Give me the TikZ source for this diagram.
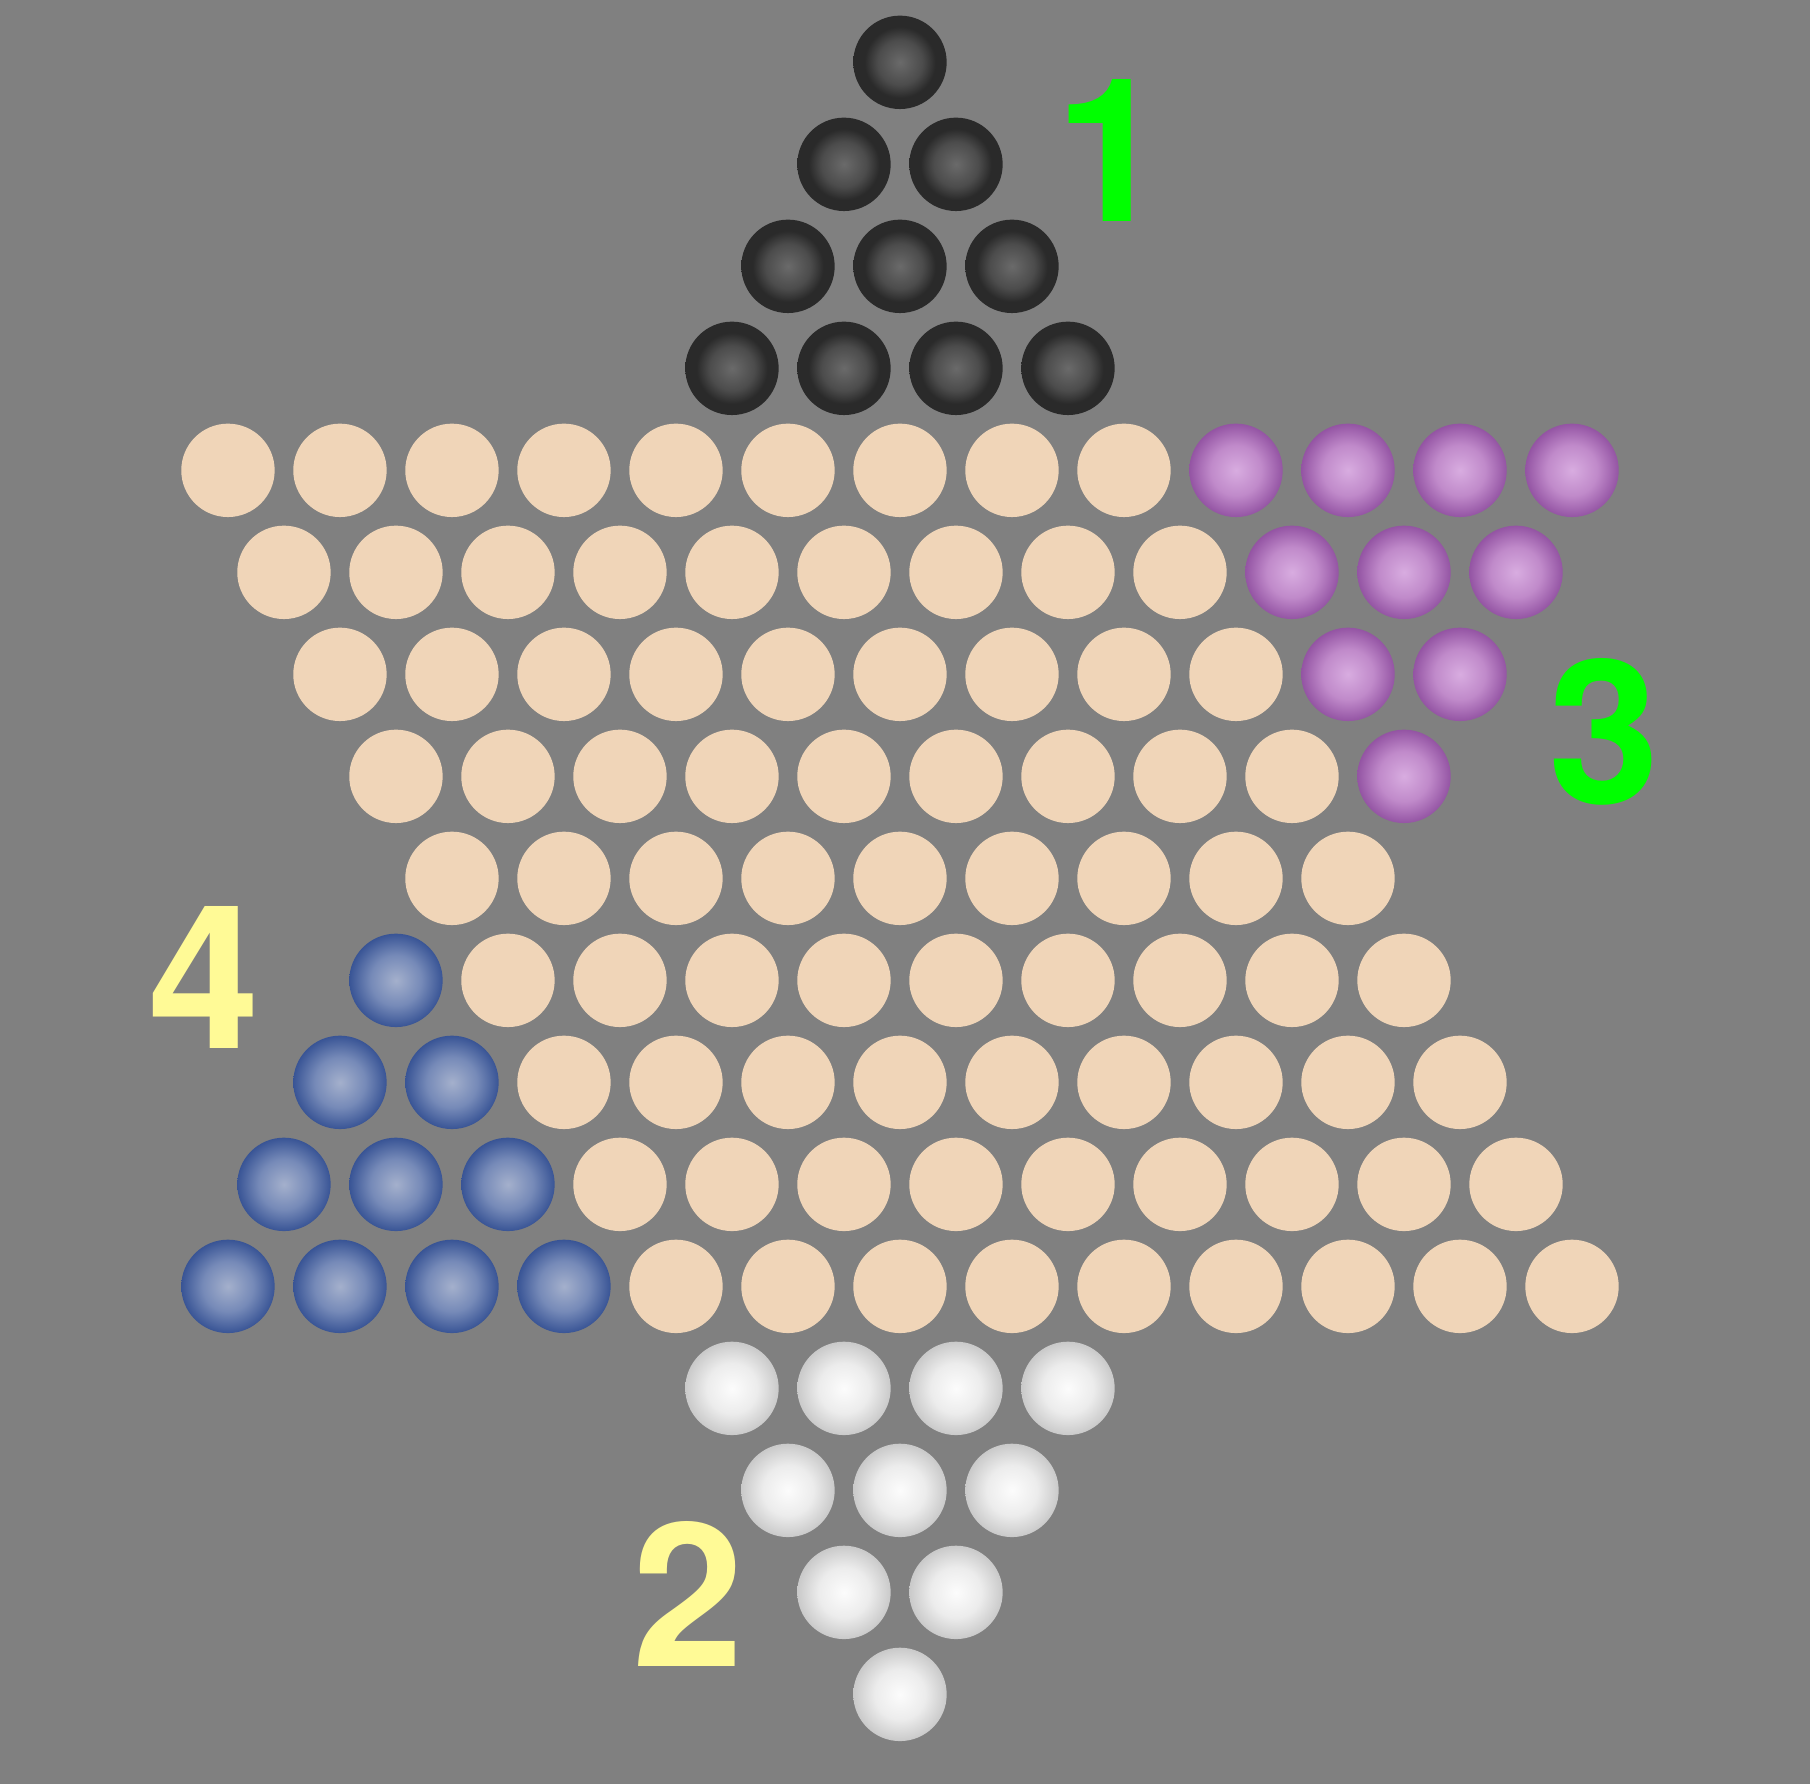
\documentclass[tikz,border=0pt]{standalone}
\usepackage{fontspec}
\setmainfont{TeX Gyre Heros}
\definecolor{boardgray}{HTML}{808080}
\definecolor{holebeige}{HTML}{F0D5B8}
\definecolor{labelgreen}{HTML}{00FF00}
\definecolor{labelyellow}{HTML}{FFFA96}
\definecolor{blackin}{RGB}{106,106,106}
\definecolor{blackmid}{RGB}{76,76,76}
\definecolor{blackout}{RGB}{42,42,42}
\definecolor{purplein}{RGB}{216,172,224}
\definecolor{purplemid}{RGB}{192,138,202}
\definecolor{purpleout}{RGB}{146,82,162}
\definecolor{bluein}{RGB}{164,176,204}
\definecolor{bluemid}{RGB}{118,138,184}
\definecolor{blueout}{RGB}{54,82,148}
\definecolor{whitein}{RGB}{252,252,252}
\definecolor{whitemid}{RGB}{236,236,236}
\definecolor{whiteout}{RGB}{200,200,200}
\pgfdeclareradialshading{blackshade}{\pgfpointorigin}{color(0bp)=(blackin); color(12bp)=(blackmid); color(19bp)=(blackout); color(25bp)=(blackout); color(50bp)=(blackout)}
\pgfdeclareradialshading{purpleshade}{\pgfpointorigin}{color(0bp)=(purplein); color(13.5bp)=(purplemid); color(25.5bp)=(purpleout); color(50bp)=(purpleout)}
\pgfdeclareradialshading{blueshade}{\pgfpointorigin}{color(0bp)=(bluein); color(13.5bp)=(bluemid); color(25.5bp)=(blueout); color(50bp)=(blueout)}
\pgfdeclareradialshading{whiteshade}{\pgfpointorigin}{color(0bp)=(whitein); color(13.5bp)=(whitemid); color(25.5bp)=(whiteout); color(50bp)=(whiteout)}
\begin{document}
\begin{tikzpicture}[x=0.56cm,y=1.02cm,
    hole/.style={fill=holebeige},
    blackball/.style={shading=blackshade},
    purpleball/.style={shading=purpleshade},
    blueball/.style={shading=blueshade},
    whiteball/.style={shading=whiteshade},
    player/.style={inner sep=0pt,font=\fontsize{57}{57}\selectfont\bfseries}]
    \fill[boardgray] (-16.071,0.611) rectangle (16.25,-16.879);
    \useasboundingbox (-16.071,0.611) rectangle (16.25,-16.879);
    % empty holes
    \foreach \r in {4,...,12}
        \foreach \i in {0,...,8}
            \path[hole] (\r-16+2*\i,-\r) circle (0.467cm);
    % top and bottom triangles
    \foreach \r in {0,...,3}
        \foreach \i in {0,...,\r} {
            \path[blackball] (2*\i-\r,-\r) circle (0.467cm);
            \path[whiteball] (2*\i-\r,\r-16) circle (0.467cm);
        }
    % side triangles
    \foreach \r [evaluate=\r as \n using int(3-\r)] in {0,...,3}
        \foreach \i in {0,...,\n} {
            \path[purpleball] (12-\r-2*\i,-4-\r) circle (0.467cm);
            \path[blueball] (-12+\r+2*\i,\r-12) circle (0.467cm);
        }
    \node[player,text=labelgreen] (one) at (3.77,-0.86) {1};
    \node[player,text=labelyellow] (two) at (-3.79,-15.02) {2};
    \node[player,text=labelgreen] (three) at (12.57,-6.56) {3};
    \node[player,text=labelyellow] (four) at (-12.42,-8.97) {4};
\end{tikzpicture}
\end{document}
